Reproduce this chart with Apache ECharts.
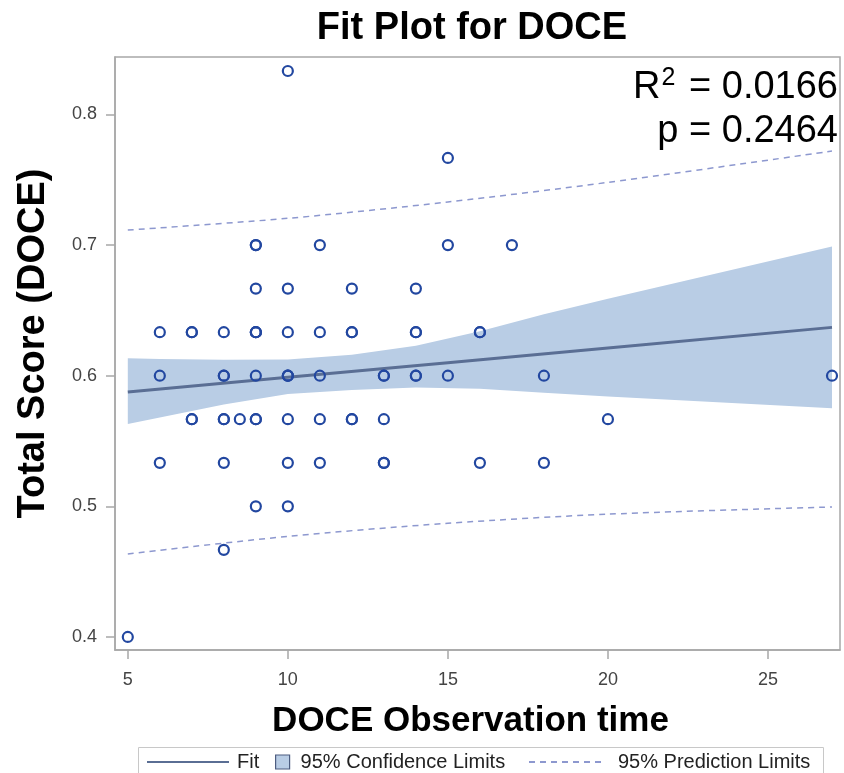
<!DOCTYPE html>
<html>
<head>
<meta charset="utf-8">
<title>Fit Plot for DOCE</title>
<script src="https://cdn.jsdelivr.net/npm/echarts@6/dist/echarts.min.js"></script>
<style>
  html, body { margin: 0; padding: 0; background: #fff; }
  #main { width: 844px; height: 773px; }
</style>
</head>
<body>
<div id="main"></div>
<script type="text/javascript">
// observed points (DOCE observation time, total score)
var obsTime = [
  5,
  6, 6, 6,
  7, 7, 7, 7,
  8, 8, 8, 8, 8, 8, 8,
  8.5,
  9, 9, 9, 9, 9, 9, 9, 9, 9, 9,
  10, 10, 10, 10, 10, 10, 10, 10, 10,
  11, 11, 11, 11, 11,
  12, 12, 12, 12, 12,
  13, 13, 13, 13, 13,
  14, 14, 14, 14, 14,
  15, 15, 15,
  16, 16, 16,
  17,
  18, 18,
  20,
  27
];
var totalScore = [
  0.4,
  0.6333, 0.6, 0.5333,
  0.6333, 0.6333, 0.5667, 0.5667,
  0.6333, 0.6, 0.6, 0.5667, 0.5667, 0.5333, 0.4667,
  0.5667,
  0.7, 0.7, 0.6667, 0.6333, 0.6333, 0.6333, 0.6, 0.5667, 0.5667, 0.5,
  0.8333, 0.6667, 0.6333, 0.6, 0.6, 0.6, 0.5667, 0.5333, 0.5,
  0.7, 0.6333, 0.6, 0.5667, 0.5333,
  0.6667, 0.6333, 0.6333, 0.5667, 0.5667,
  0.6, 0.6, 0.5667, 0.5333, 0.5333,
  0.6667, 0.6333, 0.6333, 0.6, 0.6,
  0.7667, 0.7, 0.6,
  0.6333, 0.6333, 0.5333,
  0.7,
  0.6, 0.5333,
  0.5667,
  0.6
];

// fitted line
var fitX = [5, 10, 15, 20, 27];
var fitY = [0.5875, 0.5988, 0.6100, 0.6213, 0.6370];

// 95% confidence band
var bandX = [5, 6, 8, 10, 12, 14, 16, 18, 20, 27];
var bandUpper = [0.6133, 0.6128, 0.6123, 0.6125, 0.6160, 0.6230, 0.6340, 0.6470, 0.6590, 0.6990];
var bandLower = [0.5630, 0.5680, 0.5780, 0.5860, 0.5890, 0.5910, 0.5900, 0.5870, 0.5840, 0.5750];

// 95% prediction limits
var predX = [5, 10, 15, 20, 27];
var predUpper = [0.7115, 0.7205, 0.7330, 0.7480, 0.7720];
var predLower = [0.4635, 0.4770, 0.4870, 0.4940, 0.4995];

var xTicks = [5, 10, 15, 20, 25];
var yTicks = [0.4, 0.5, 0.6, 0.7, 0.8];

var pointColor = '#2247a0';
var fitColor = '#5a6e94';
var bandColor = '#b9cde5';
var predColor = '#8d98cf';
var axisColor = '#a8a8a8';
var fontFamily = '"Liberation Sans", Arial, sans-serif';

function pairs(xs, ys) {
  var out = [];
  for (var i = 0; i < xs.length; i++) out.push([xs[i], ys[i]]);
  return out;
}

var bandData = [];
for (var i = 0; i < bandX.length; i++) bandData.push([bandX[i], bandUpper[i], bandLower[i]]);

var myChart = echarts.init(document.getElementById('main'));

// legend for line series draws a marker too; hide it
var noMarker = { color: 'rgba(0,0,0,0)', borderWidth: 0, opacity: 0 };

var option = {
  animation: false,
  textStyle: { fontFamily: fontFamily },
  title: {
    text: 'Fit Plot for DOCE',
    left: 467,
    top: 5,
    textAlign: 'center',
    textStyle: { fontSize: 38, fontWeight: 'bold', color: '#000', fontFamily: fontFamily }
  },
  grid: {
    left: 115,
    right: 4,
    top: 57,
    bottom: 123,
    show: true,
    borderColor: axisColor,
    borderWidth: 1.5,
    outerBoundsMode: 'none'
  },
  legend: [{
    left: 146,
    top: 752,
    padding: 0,
    itemWidth: 82,
    itemHeight: 14,
    itemStyle: noMarker,
    data: ['Fit'],
    textStyle: { fontSize: 20, color: '#222', padding: [0, 0, 0, 3] }
  }, {
    left: 275,
    top: 752,
    padding: 0,
    itemWidth: 14,
    itemHeight: 14,
    data: [{
      name: '95% Confidence Limits',
      icon: 'rect',
      itemStyle: { color: bandColor, borderColor: '#4d5d80', borderWidth: 1.2 }
    }],
    textStyle: { fontSize: 20, color: '#222', padding: [0, 0, 0, 6] }
  }, {
    left: 528,
    top: 752,
    padding: 0,
    itemWidth: 72,
    itemHeight: 14,
    itemStyle: noMarker,
    data: ['95% Prediction Limits'],
    textStyle: { fontSize: 20, color: '#222', padding: [0, 0, 0, 12] }
  }],
  graphic: [{
    type: 'rect',
    shape: { x: 138.5, y: 747.5, width: 685, height: 30 },
    style: { fill: 'none', stroke: '#c8c8c8', lineWidth: 1 },
    silent: true
  }, {
    type: 'text',
    x: 838,
    y: 66,
    silent: true,
    style: {
      text: '{a|R}{sup|2}{a| = 0.0166}\n{a|p = 0.2464}',
      align: 'right',
      verticalAlign: 'top',
      rich: {
        a: { fontSize: 38, color: '#000', lineHeight: 44, fontFamily: fontFamily },
        sup: { fontSize: 25, color: '#000', lineHeight: 44, verticalAlign: 'top', padding: [0, 3, 0, 1], fontFamily: fontFamily }
      }
    }
  }],
  xAxis: {
    type: 'value',
    min: 4.6,
    max: 27.25,
    name: 'DOCE Observation time',
    nameLocation: 'middle',
    nameGap: 54,
    nameTextStyle: { fontSize: 35, fontWeight: 'bold', color: '#000', padding: [0, 14, 0, 0] },
    splitLine: { show: false },
    axisLine: { show: true, onZero: false, lineStyle: { color: axisColor, width: 1.5 } },
    axisTick: { show: true, length: 9, customValues: xTicks, lineStyle: { color: axisColor, width: 1.5 } },
    axisLabel: {
      customValues: xTicks,
      fontSize: 18,
      color: '#444',
      margin: 21
    }
  },
  yAxis: {
    type: 'value',
    min: 0.39,
    max: 0.844,
    name: 'Total Score (DOCE)',
    nameLocation: 'middle',
    nameGap: 62,
    nameTextStyle: { fontSize: 38, fontWeight: 'bold', color: '#000', padding: [0, 0, 0, 20] },
    splitLine: { show: false },
    axisLine: { show: true, onZero: false, lineStyle: { color: axisColor, width: 1.5 } },
    axisTick: { show: true, length: 9, customValues: yTicks, lineStyle: { color: axisColor, width: 1.5 } },
    axisLabel: {
      customValues: yTicks,
      fontSize: 18,
      color: '#444',
      margin: 18,
      formatter: function (v) { return v.toFixed(1); }
    }
  },
  series: [{
    name: '95% Confidence Limits',
    type: 'custom',
    z: 1,
    itemStyle: { color: bandColor },
    data: bandData,
    encode: { x: 0, y: [1, 2] },
    renderItem: function (params, api) {
      if (params.dataIndex !== 0) return;
      var pts = [];
      for (var i = 0; i < bandX.length; i++) pts.push(api.coord([bandX[i], bandUpper[i]]));
      for (var j = bandX.length - 1; j >= 0; j--) pts.push(api.coord([bandX[j], bandLower[j]]));
      return {
        type: 'polygon',
        shape: { points: pts },
        style: { fill: bandColor, stroke: null }
      };
    }
  }, {
    name: 'Fit',
    type: 'line',
    z: 2,
    symbol: 'none',
    showSymbol: false,
    data: pairs(fitX, fitY),
    lineStyle: { color: fitColor, width: 3 },
    itemStyle: { color: fitColor }
  }, {
    name: '95% Prediction Limits',
    type: 'line',
    z: 2,
    symbol: 'none',
    showSymbol: false,
    smooth: 0.3,
    data: pairs(predX, predUpper),
    lineStyle: { color: predColor, width: 1.5, type: [6, 5] },
    itemStyle: { color: predColor }
  }, {
    name: '95% Prediction Limits',
    type: 'line',
    z: 2,
    symbol: 'none',
    showSymbol: false,
    smooth: 0.3,
    data: pairs(predX, predLower),
    lineStyle: { color: predColor, width: 1.5, type: [6, 5] },
    itemStyle: { color: predColor }
  }, {
    name: 'Observed',
    type: 'scatter',
    z: 3,
    symbol: 'circle',
    symbolSize: 10,
    data: pairs(obsTime, totalScore),
    itemStyle: { color: 'rgba(0,0,0,0)', borderColor: pointColor, borderWidth: 2.2, opacity: 1 }
  }]
};
myChart.setOption(option);
</script>
</body>
</html>
